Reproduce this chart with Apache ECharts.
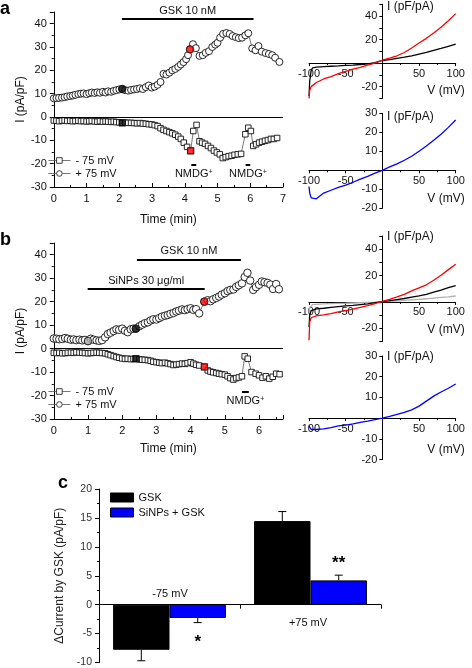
<!DOCTYPE html>
<html><head><meta charset="utf-8">
<script src="https://cdn.jsdelivr.net/npm/echarts@6/dist/echarts.min.js"></script>
<style>html,body{margin:0;padding:0;background:#fff}#c{width:472px;height:668px}</style>
</head><body><div id="c"></div><script>
// ---------- Panel a: time course ----------
const aPos = [[0,8],[0.08,8.1],[0.16,8.2],[0.25,8.3],[0.33,8.5],[0.41,8.8],[0.5,9],[0.58,9.2],[0.66,9.5],[0.75,9.8],[0.83,10],[0.91,10.1],[1,9.8],[1.08,10.2],[1.16,10.5],[1.25,10.3],[1.33,10.6],[1.41,10.4],[1.5,10.8],[1.58,10.5],[1.66,11],[1.75,10.8],[1.83,11.2],[1.91,11.5],[2,11.8],[2.09,12],[2.18,11.5],[2.27,11.3],[2.36,11.6],[2.45,11.8],[2.54,12],[2.63,12.3],[2.72,12],[2.81,12.8],[2.9,13.5],[2.99,12.6],[3.08,13],[3.17,13.8],[3.26,15],[3.35,18.5],[3.44,18.2],[3.53,19],[3.62,20],[3.71,20.6],[3.8,21.5],[3.88,22.5],[3.96,23.5],[4.04,24.8],[4.1,26.5],[4.16,29],[4.25,31.2],[4.34,29.5],[4.45,26.2],[4.55,26.5],[4.64,27.5],[4.74,28.2],[4.84,30],[4.93,31],[5,31.8],[5.08,34],[5.17,35.6],[5.27,36],[5.37,35.6],[5.46,34.7],[5.56,34.2],[5.65,33.8],[5.75,34],[5.85,35],[5.94,35.9],[6.06,29.4],[6.16,28.6],[6.25,30.4],[6.35,28],[6.47,27.4],[6.57,27],[6.67,26.5],[6.76,25.4],[6.89,23.6]];
const aNeg = [[0,-1.5],[0.08,-1.6],[0.16,-1.8],[0.25,-1.6],[0.33,-1.5],[0.41,-1.7],[0.5,-1.6],[0.58,-1.8],[0.66,-1.7],[0.75,-1.6],[0.83,-1.8],[0.91,-1.7],[1,-1.9],[1.08,-1.8],[1.16,-1.7],[1.25,-1.9],[1.33,-2],[1.41,-1.8],[1.5,-2],[1.58,-1.9],[1.66,-2],[1.75,-2.1],[1.83,-2],[1.91,-2.2],[2,-2.3],[2.09,-2.5],[2.18,-2.4],[2.27,-2.5],[2.36,-2.5],[2.45,-2.6],[2.54,-2.7],[2.63,-2.6],[2.72,-2.8],[2.81,-2.9],[2.9,-3.1],[2.99,-3.2],[3.08,-3.5],[3.17,-3.9],[3.26,-4.8],[3.35,-5.5],[3.44,-6],[3.53,-6.5],[3.62,-7],[3.71,-7.6],[3.8,-8.4],[3.88,-9.4],[3.97,-11],[4.07,-12.8],[4.18,-14.5],[4.26,-6],[4.36,-3.4],[4.45,-10.4],[4.53,-11],[4.62,-11.5],[4.71,-12.4],[4.8,-13.3],[4.89,-14.4],[4.98,-15.2],[5.07,-16],[5.16,-17.6],[5.25,-17.2],[5.34,-16.8],[5.43,-16.6],[5.52,-16.2],[5.62,-16],[5.72,-15.8],[5.85,-7.4],[5.94,-4.6],[6.02,-6],[6.09,-12.4],[6.18,-11.7],[6.27,-11],[6.36,-10.6],[6.45,-10.2],[6.54,-9.9],[6.63,-9.4],[6.72,-9.4],[6.82,-9]];
const aPosMarks = [[2.09,12],[4.16,29]];
const aNegMarks = [[2.09,-2.5],[4.18,-14.5]];
const aGskPeriod = [2.08, 6.1];
const aNmdgPeriods = [[4.2,4.35],[5.86,6.0]];

// ---------- Panel b: time course ----------
const bPos = [[0,4.3],[0.08,4.2],[0.16,4],[0.25,4.1],[0.33,4.5],[0.41,4.2],[0.5,3.8],[0.58,3.9],[0.66,3.6],[0.75,3.8],[0.83,3.5],[0.91,3.7],[1,3.2],[1.08,4.2],[1.16,3.8],[1.25,3.5],[1.33,3.3],[1.41,3.6],[1.5,4.8],[1.58,6.2],[1.66,6.8],[1.75,7.5],[1.83,8.2],[1.91,8],[2,8.5],[2.08,7.6],[2.16,7],[2.25,8.2],[2.33,8.5],[2.4,8.5],[2.5,9.5],[2.58,10.2],[2.66,10.8],[2.75,11.2],[2.83,12],[2.91,12.5],[3,12.4],[3.08,13],[3.16,13.6],[3.25,14],[3.33,14.3],[3.41,14.8],[3.5,15.2],[3.58,15.8],[3.66,16.2],[3.75,16.7],[3.83,16.4],[3.91,16.8],[4,17.2],[4.08,16.5],[4.16,16.8],[4.25,15],[4.4,20],[4.5,20.6],[4.58,20.2],[4.66,21],[4.75,21.6],[4.83,22.2],[4.91,23],[5,23.6],[5.08,24.5],[5.16,25],[5.25,25.2],[5.33,26.3],[5.41,27],[5.5,27.8],[5.58,30.5],[5.66,32.3],[5.74,29],[5.83,25],[5.91,26.2],[6,27.2],[6.08,28.6],[6.16,28.3],[6.25,28],[6.33,27.3],[6.41,25.4],[6.5,27.5],[6.58,25.3]];
const bNeg = [[0,-1.8],[0.08,-1.9],[0.16,-1.8],[0.25,-2],[0.33,-1.9],[0.41,-1.8],[0.5,-1.7],[0.58,-1.8],[0.66,-1.6],[0.75,-1.7],[0.83,-1.8],[0.91,-1.9],[1,-2],[1.08,-1.9],[1.16,-1.8],[1.25,-1.7],[1.33,-1.8],[1.41,-1.9],[1.5,-2],[1.58,-2.4],[1.66,-2.8],[1.75,-3.2],[1.83,-3.6],[1.91,-3.9],[2,-4.2],[2.08,-4.4],[2.16,-4.3],[2.25,-4.5],[2.33,-4.4],[2.4,-4.3],[2.5,-4.6],[2.58,-4.7],[2.66,-4.8],[2.75,-4.9],[2.83,-5.2],[2.91,-5.6],[3,-5.8],[3.08,-6],[3.16,-6.2],[3.25,-6],[3.33,-6.3],[3.41,-6.6],[3.5,-7],[3.58,-6.8],[3.66,-6.6],[3.75,-6.4],[3.83,-6.5],[3.91,-6.2],[4,-5.8],[4.08,-6.4],[4.16,-6.9],[4.25,-7.2],[4.4,-7.8],[4.5,-9.3],[4.58,-9.8],[4.66,-10.1],[4.75,-10.4],[4.83,-10.7],[4.91,-10.9],[5,-11.1],[5.08,-11.8],[5.16,-12.6],[5.25,-13.2],[5.33,-12.6],[5.41,-12.3],[5.5,-11.8],[5.58,-3.3],[5.67,-4.3],[5.78,-10],[5.9,-10.7],[6,-11.4],[6.1,-12.4],[6.2,-11.8],[6.3,-12.8],[6.4,-12],[6.5,-10.7],[6.6,-10.9]];
const bPosMarks = [[1.0,3.2],[2.4,8.5],[4.4,20]];
const bNegMarks = [[2.4,-4.3],[4.4,-7.8]];
const bGskPeriod = [2.43, 5.47];
const bSinpsPeriod = [0.99, 4.41];
const bNmdgPeriod = [5.5, 5.7];

// ---------- I-V curves ----------
const ivV = [-100,-99,-97,-95,-90,-80,-70,-60,-50,-40,-30,-20,-10,0,10,20,30,40,50,60,70,80,90,100];
const ivA_ctrl  = [-28,-15,-6,-4,-3.5,-3,-2.7,-2.4,-2,-1.7,-1.2,-0.6,0.4,2.2,3,4,5,6.2,7.6,9,10.8,12.4,14.2,16];
const ivA_gsk   = [-30,-23,-20,-19,-16.5,-13.5,-11.5,-9,-7,-5.2,-3.6,-1.8,0,2.4,4.2,6.2,9,12.8,17,21,25.5,30.5,36,42];
const ivA_diff  = [-8.5,-12,-14.5,-15.5,-15,-12,-10.5,-9,-7.8,-6.3,-4.6,-3.2,-1.5,0,1.8,3.4,5.3,7.4,10,12.8,15.8,19,22.6,26.5];
const ivB_ctrl  = [-8,-4,-2.5,-2,-1.8,-1.5,-1.3,-1.1,-1,-0.8,-0.6,-0.4,-0.2,0.2,0.5,0.9,1.2,1.6,2,2.4,2.9,3.4,3.9,4.5];
const ivB_sinps = [-19,-10,-6.5,-5.8,-5.2,-4.8,-4.2,-3.6,-3,-2.6,-2,-1.4,-0.6,0.3,1,1.8,2.6,3.6,4.6,5.8,7.4,9,10.8,12.4];
const ivB_gsk   = [-29,-15,-12,-11,-10.5,-9.8,-8.8,-7.6,-6.6,-5.4,-4.2,-2.8,-1.2,0.4,2,3.8,5.8,8.4,10.6,13,16.4,20.2,24.5,28.6];
const ivB_diff  = [-3.5,-4.5,-5.5,-5.8,-5.5,-5.2,-4.6,-3.8,-3.4,-2.8,-2.1,-1.5,-0.7,0,0.8,1.8,2.8,4,5.8,8.2,10.6,12.6,14.4,16.5];

// ---------- Panel c: bar chart ----------
const cCategories = ['-75 mV', '+75 mV'];
const cGskMean = [-7.8, 14.45];
const cGskErr = [1.9, 1.65];
const cSinpsMean = [-2.3, 4.2];
const cSinpsErr = [0.8, 0.9];
const cSigLabels = ['*', '**'];

// ---------------------------------------------------------
const FONT = '"Liberation Sans", Arial, sans-serif';
const TXT = '#111';
const chart = echarts.init(document.getElementById('c'), null, {renderer: 'canvas'});
const ivPairs = arr => ivV.map((v, i) => [v, arr[i]]);
const AL = onZero => ({show: true, onZero: onZero, lineStyle: {color: '#000', width: 1}});

// I-V grids (layout only) and the pixel offsets that put their axes through the origin
const ivGrids = [
  {left: 309, top: 4.2, width: 146.7, height: 94.2, min: -30, max: 50, step: 20},
  {left: 309, top: 113.3, width: 146.7, height: 95, min: -20, max: 30, step: 10},
  {left: 309, top: 236, width: 146.7, height: 105.5, min: -30, max: 50, step: 20},
  {left: 309, top: 356, width: 146.7, height: 103.5, min: -20, max: 30, step: 10}
];
const zeroOffsetY = g => -(g.width / 2);                       // y axis at V = 0 (symmetric -100..100)
const zeroOffsetX = g => -(g.height * (0 - g.min) / (g.max - g.min)); // x axis at I = 0

function tsX(gi, max, gap) {
  return {gridIndex: gi, type: 'value', min: 0, max: max, interval: 1,
    name: 'Time (min)', nameLocation: 'middle', nameGap: gap,
    nameTextStyle: {fontSize: 12, color: TXT, fontFamily: FONT},
    axisLine: AL(false),
    axisTick: {show: true, inside: true, length: 4, lineStyle: {color: '#000'}},
    minorTick: {show: true, splitNumber: 2, length: 2, lineStyle: {color: '#000'}},
    axisLabel: {fontSize: 11, color: TXT, fontFamily: FONT, margin: 6, showMaxLabel: max === 7},
    splitLine: {show: false}, minorSplitLine: {show: false}};
}
function tsY(gi) {
  return {gridIndex: gi, type: 'value', min: -30, max: 45, interval: 10,
    name: 'I (pA/pF)', nameLocation: 'middle', nameGap: 23, nameRotate: 90,
    nameTextStyle: {fontSize: 12, color: TXT, fontFamily: FONT},
    axisLine: AL(false),
    axisTick: {show: true, inside: false, length: 4, lineStyle: {color: '#000'}},
    minorTick: {show: true, splitNumber: 2, length: 2, lineStyle: {color: '#000'}},
    axisLabel: {fontSize: 11, color: TXT, fontFamily: FONT, margin: 7, showMaxLabel: false},
    splitLine: {show: false}, minorSplitLine: {show: false}};
}
function ivX(gi, g) {
  return {gridIndex: gi, type: 'value', min: -100, max: 100, interval: 50,
    position: 'bottom', offset: zeroOffsetX(g),
    axisLine: AL(false),
    axisTick: {show: true, inside: false, length: 3, lineStyle: {color: '#000'}},
    minorTick: {show: true, splitNumber: 2, length: 2, lineStyle: {color: '#000'}},
    axisLabel: {fontSize: 11, color: TXT, fontFamily: FONT, margin: 5, formatter: v => v === 0 ? '' : String(v)},
    splitLine: {show: false}, minorSplitLine: {show: false}};
}
function ivY(gi, g) {
  return {gridIndex: gi, type: 'value', min: g.min, max: g.max, interval: 10,
    position: 'left', offset: zeroOffsetY(g),
    axisLine: AL(false),
    axisTick: {show: true, inside: false, length: 3, lineStyle: {color: '#000'}},
    axisLabel: {fontSize: 11, color: TXT, fontFamily: FONT, margin: 5,
      formatter: v => (v === 0 || v % g.step !== 0) ? '' : String(v)},
    splitLine: {show: false}};
}
function tsSeries(name, data, symbol, size, gi, markLine) {
  const s = {type: 'line', name: name, data: data, xAxisIndex: gi, yAxisIndex: gi,
    symbol: symbol, symbolSize: size, showSymbol: true, showAllSymbol: true,
    lineStyle: {color: '#555', width: 0.8},
    itemStyle: {color: '#fff', borderColor: '#111', borderWidth: 0.9},
    emphasis: {disabled: true}, animation: false, z: 3};
  if (markLine) s.markLine = markLine;
  return s;
}
function markSeries(data, colors, symbol, size, gi) {
  return {type: 'scatter', data: data.map((d, i) => ({value: d, itemStyle: {color: colors[i]}})),
    xAxisIndex: gi, yAxisIndex: gi, symbol: symbol, symbolSize: size,
    itemStyle: {borderColor: '#111', borderWidth: 0.9}, z: 4, silent: true, animation: false};
}
function ivSeries(gi, data, color) {
  return {type: 'line', data: data, xAxisIndex: gi, yAxisIndex: gi, showSymbol: false,
    lineStyle: {color: color, width: 1.3}, animation: false, silent: true, z: 3};
}
const lineLabel = (txt, pos, dist) => ({show: true, position: pos, distance: dist, formatter: txt,
  color: TXT, fontSize: 11, fontFamily: FONT,
  rich: {n: {fontSize: 11, fontFamily: FONT, color: TXT}, s: {fontSize: 7, fontFamily: FONT, color: TXT, verticalAlign: 'top', lineHeight: 8, padding: [0, 0, 5, 0]}}});
const barLine = w => ({color: '#000', width: w, type: 'solid'});
const nmdgTxt = '{n|NMDG}{s|+}';

const markA = {silent: true, symbol: ['none', 'none'], animation: false, data: [
  {yAxis: 0, lineStyle: barLine(1), label: {show: false}},
  [{coord: [aGskPeriod[0], 42], lineStyle: barLine(2), label: lineLabel('GSK 10 nM', 'insideMiddleTop', 3)}, {coord: [aGskPeriod[1], 42]}],
  [{coord: [aNmdgPeriods[0][0], -20.4], lineStyle: barLine(2), label: lineLabel(nmdgTxt, 'insideMiddleBottom', 4)}, {coord: [aNmdgPeriods[0][1], -20.4]}],
  [{coord: [aNmdgPeriods[1][0], -20.4], lineStyle: barLine(2), label: lineLabel(nmdgTxt, 'insideMiddleBottom', 4)}, {coord: [aNmdgPeriods[1][1], -20.4]}]
]};
const markB = {silent: true, symbol: ['none', 'none'], animation: false, data: [
  {yAxis: 0, lineStyle: barLine(1), label: {show: false}},
  [{coord: [bGskPeriod[0], 38], lineStyle: barLine(2), label: lineLabel('GSK 10 nM', 'insideMiddleTop', 3)}, {coord: [bGskPeriod[1], 38]}],
  [{coord: [bSinpsPeriod[0], 25.3], lineStyle: barLine(2), label: lineLabel('SiNPs 30 μg/ml', 'insideMiddleTop', 3)}, {coord: [bSinpsPeriod[1], 25.3]}],
  [{coord: [bNmdgPeriod[0], -18.2], lineStyle: barLine(2), label: lineLabel(nmdgTxt, 'insideMiddleBottom', 4)}, {coord: [bNmdgPeriod[1], -18.2]}]
]};

function errRender(params, api) {
  const ci = api.value(0), m = api.value(1), e = api.value(2), g = api.value(3);
  const p0 = api.coord([ci, m]);
  const p1 = api.coord([ci, m < 0 ? m - e : m + e]);
  const band = api.size([1, 0])[0];
  const bw = band * 0.8 / 2;
  const x = p0[0] + (g === 0 ? -bw / 2 : bw / 2);
  const st = {stroke: '#000', lineWidth: 1};
  const children = [
    {type: 'line', shape: {x1: x, y1: p0[1], x2: x, y2: p1[1]}, style: st},
    {type: 'line', shape: {x1: x - 4, y1: p1[1], x2: x + 4, y2: p1[1]}, style: st}
  ];
  if (g === 1) {
    children.push({type: 'text', x: x, y: p1[1] + (m < 0 ? 20 : -12),
      style: {text: cSigLabels[params.dataIndex], fontSize: 17, fontWeight: 'bold', fontFamily: FONT,
        fill: '#000', align: 'center', verticalAlign: 'middle'}});
  }
  return {type: 'group', children: children};
}

const txt = (x, y, s, opts) => Object.assign({type: 'text', x: x, y: y, silent: true,
  style: Object.assign({text: s, fontSize: 12, fontFamily: FONT, fill: TXT, align: 'left', verticalAlign: 'middle'}, opts || {})});
const legendCommon = {orient: 'vertical', itemWidth: 22, itemHeight: 7, itemGap: 2, padding: 0,
  data: ['- 75 mV', '+ 75 mV'], textStyle: {fontSize: 11, color: TXT, fontFamily: FONT}, selectedMode: false,
  lineStyle: {width: 0.8, color: '#555'}, itemStyle: {borderWidth: 0.8, borderColor: '#111', color: '#fff'}};

const option = {
  animation: false,
  textStyle: {fontFamily: FONT},
  grid: [
    {left: 40, top: 12, width: 243, height: 175},
    {left: 41, top: 243, width: 242, height: 176},
    ...ivGrids.map(g => ({left: g.left, top: g.top, width: g.width, height: g.height})),
    {left: 99, top: 489, width: 282, height: 175}
  ],
  xAxis: [
    tsX(0, 7, 27), tsX(1, 6.7, 24), ...ivGrids.map((g, i) => ivX(i + 2, g)),
    {gridIndex: 6, type: 'category', data: cCategories,
      axisLabel: {show: false},
      axisTick: {show: true, length: 4, inside: false, lineStyle: {color: '#000'}},
      axisLine: AL(true)}
  ],
  yAxis: [
    tsY(0), tsY(1), ...ivGrids.map((g, i) => ivY(i + 2, g)),
    {gridIndex: 6, type: 'value', min: -10, max: 20, interval: 5,
      name: 'ΔCurrent by GSK (pA/pF)', nameLocation: 'middle', nameGap: 23, nameRotate: 90,
      nameTextStyle: {fontSize: 12, color: '#222', fontFamily: FONT},
      axisLine: AL(false),
      axisTick: {show: true, inside: false, length: 4, lineStyle: {color: '#000'}},
      minorTick: {show: true, splitNumber: 2, length: 2, lineStyle: {color: '#000'}},
      axisLabel: {fontSize: 10.5, color: '#333', fontFamily: FONT, margin: 7},
      splitLine: {show: false}, minorSplitLine: {show: false}}
  ],
  legend: [
    Object.assign({left: 48, top: 155}, legendCommon),
    Object.assign({left: 48, top: 386}, legendCommon),
    {orient: 'vertical', left: 110, top: 492, itemWidth: 23, itemHeight: 9, itemGap: 4, padding: 0, icon: 'rect',
      data: ['GSK', 'SiNPs + GSK'], textStyle: {fontSize: 11, color: TXT, fontFamily: FONT}, selectedMode: false,
      itemStyle: {borderColor: '#000', borderWidth: 1}}
  ],
  series: [
    tsSeries('- 75 mV', aNeg, 'rect', 5.5, 0, null),
    tsSeries('+ 75 mV', aPos, 'circle', 7, 0, markA),
    markSeries(aNegMarks, ['#000', '#ff0000'], 'rect', 6.5, 0),
    markSeries(aPosMarks, ['#000', '#ff0000'], 'circle', 7.5, 0),
    tsSeries('- 75 mV', bNeg, 'rect', 5.5, 1, null),
    tsSeries('+ 75 mV', bPos, 'circle', 7.5, 1, markB),
    markSeries(bNegMarks, ['#000', '#ff0000'], 'rect', 6.5, 1),
    markSeries(bPosMarks, ['#aaaaaa', '#000', '#ff0000'], 'circle', 7.5, 1),
    ivSeries(2, ivPairs(ivA_ctrl), '#000'),
    ivSeries(2, ivPairs(ivA_gsk), '#ff0000'),
    ivSeries(3, ivPairs(ivA_diff), '#0000ff'),
    ivSeries(4, ivPairs(ivB_ctrl), '#b0b0b0'),
    ivSeries(4, ivPairs(ivB_sinps), '#000'),
    ivSeries(4, ivPairs(ivB_gsk), '#ff0000'),
    ivSeries(5, ivPairs(ivB_diff), '#0000ff'),
    {type: 'bar', name: 'GSK', xAxisIndex: 6, yAxisIndex: 6, data: cGskMean, barGap: '0%', barCategoryGap: '20%',
      itemStyle: {color: '#000', borderColor: '#000', borderWidth: 1}, silent: true},
    {type: 'bar', name: 'SiNPs + GSK', xAxisIndex: 6, yAxisIndex: 6, data: cSinpsMean, barGap: '0%', barCategoryGap: '20%',
      itemStyle: {color: '#0000ff', borderColor: '#000', borderWidth: 1}, silent: true},
    {type: 'custom', xAxisIndex: 6, yAxisIndex: 6, renderItem: errRender, z: 5, silent: true,
      data: cGskMean.map((m, i) => [i, m, cGskErr[i], 0])},
    {type: 'custom', xAxisIndex: 6, yAxisIndex: 6, renderItem: errRender, z: 5, silent: true,
      data: cSinpsMean.map((m, i) => [i, m, cSinpsErr[i], 1])}
  ],
  graphic: [
    txt(0, 18, 'a', {fontSize: 18, fontWeight: 'bold', fill: '#000', verticalAlign: 'bottom'}),
    txt(0, 249, 'b', {fontSize: 18, fontWeight: 'bold', fill: '#000', verticalAlign: 'bottom'}),
    txt(58, 492, 'c', {fontSize: 18, fontWeight: 'bold', fill: '#000', verticalAlign: 'bottom'}),
    txt(387, 7, 'I (pF/pA)'), txt(387, 117, 'I (pF/pA)'), txt(387, 237, 'I (pF/pA)'), txt(387, 357, 'I (pF/pA)'),
    txt(446, 91, 'V (mV)', {align: 'center'}), txt(446, 199, 'V (mV)', {align: 'center'}),
    txt(446, 330, 'V (mV)', {align: 'center'}), txt(446, 450, 'V (mV)', {align: 'center'}),
    txt(170, 594, '-75 mV', {align: 'center', fontSize: 11}),
    txt(308, 623, '+75 mV', {align: 'center', fontSize: 11})
  ]
};
chart.setOption(option);
</script></body></html>
